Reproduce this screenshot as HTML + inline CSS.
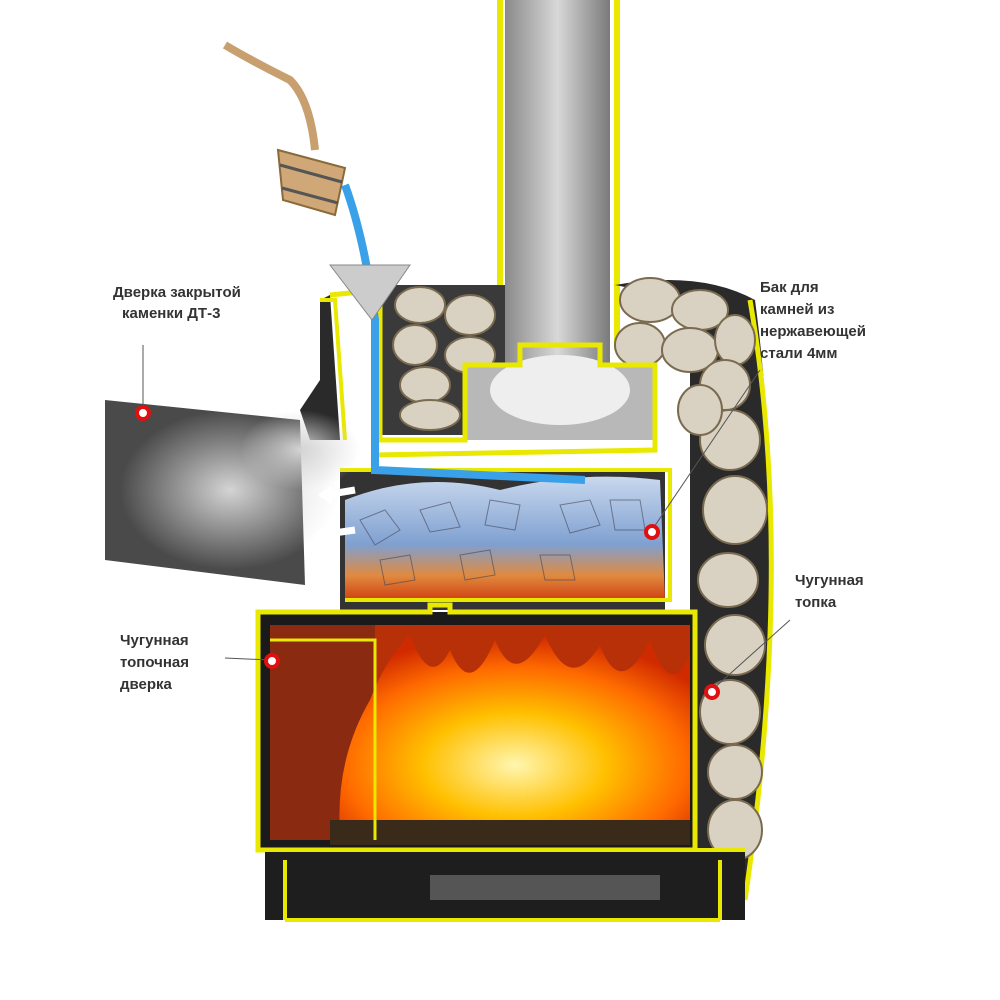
<!DOCTYPE html>
<html><head><meta charset="utf-8"><style>
html,body{margin:0;padding:0;background:#fff;width:1000px;height:1000px;overflow:hidden}
svg{display:block}
text{font-family:"Liberation Sans",sans-serif;font-size:15px;fill:#333;font-weight:bold}
</style></head><body>
<svg width="1000" height="1000" viewBox="0 0 1000 1000" xmlns="http://www.w3.org/2000/svg">
<defs>
<linearGradient id="pipe" x1="0" x2="1"><stop offset="0" stop-color="#8a8a8a"/><stop offset=".5" stop-color="#d8d8d8"/><stop offset="1" stop-color="#7a7a7a"/></linearGradient>
<radialGradient id="fire" cx=".5" cy=".65" r=".65"><stop offset="0" stop-color="#fff6b0"/><stop offset=".4" stop-color="#ffc000"/><stop offset=".75" stop-color="#ff6a00"/><stop offset="1" stop-color="#d02a00"/></radialGradient>
<linearGradient id="rocks" x1="0" y1="0" x2="0" y2="1"><stop offset="0" stop-color="#c8d8ee"/><stop offset=".55" stop-color="#7fa0d0"/><stop offset=".8" stop-color="#e08a40"/><stop offset="1" stop-color="#d04010"/></linearGradient>
<radialGradient id="steam"><stop offset="0" stop-color="#d4d4d4"/><stop offset="1" stop-color="#d4d4d4" stop-opacity="0"/></radialGradient>
</defs>
<!-- chimney -->
<rect x="505" y="0" width="105" height="365" fill="url(#pipe)"/>
<path d="M500 0 V350 M617 0 V350" stroke="#e8e800" stroke-width="6"/>
<!-- back right wall / stones column -->
<path d="M615 285 Q700 270 755 300 Q790 560 745 900 L690 900 L690 300 Z" fill="#2a2a2a"/>
<path d="M750 300 Q795 560 745 900" stroke="#e8e800" stroke-width="5" fill="none"/>
<g fill="#d9d2c2" stroke="#7a6a50" stroke-width="2">
<ellipse cx="650" cy="300" rx="30" ry="22"/><ellipse cx="700" cy="310" rx="28" ry="20"/><ellipse cx="640" cy="345" rx="25" ry="22"/>
<ellipse cx="690" cy="350" rx="28" ry="22"/><ellipse cx="735" cy="340" rx="20" ry="25"/><ellipse cx="725" cy="385" rx="25" ry="25"/>
<ellipse cx="730" cy="440" rx="30" ry="30"/><ellipse cx="700" cy="410" rx="22" ry="25"/><ellipse cx="735" cy="510" rx="32" ry="34"/>
<ellipse cx="728" cy="580" rx="30" ry="27"/><ellipse cx="735" cy="645" rx="30" ry="30"/><ellipse cx="730" cy="712" rx="30" ry="32"/>
<ellipse cx="735" cy="772" rx="27" ry="27"/><ellipse cx="735" cy="830" rx="27" ry="30"/>
</g>
<!-- upper stone chamber -->
<rect x="380" y="285" width="125" height="150" fill="#3a3a3a"/>
<g fill="#d9d2c2" stroke="#7a6a50" stroke-width="2">
<ellipse cx="420" cy="305" rx="25" ry="18"/><ellipse cx="470" cy="315" rx="25" ry="20"/><ellipse cx="415" cy="345" rx="22" ry="20"/>
<ellipse cx="470" cy="355" rx="25" ry="18"/><ellipse cx="425" cy="385" rx="25" ry="18"/><ellipse cx="430" cy="415" rx="30" ry="15"/>
</g>
<rect x="465" y="365" width="190" height="75" fill="#b8b8b8"/>
<ellipse cx="560" cy="390" rx="70" ry="35" fill="#eee"/>
<path d="M330 295 L380 290 L380 440 L465 440 L465 365 L520 365 L520 345 L600 345 L600 365 L655 365 L655 450 L375 455" stroke="#e8e800" stroke-width="5" fill="none"/>
<path d="M320 300 L330 295 L340 440 L310 440 L300 410 L320 380 Z" fill="#2a2a2a"/>
<path d="M320 300 L335 300 L345 440" stroke="#e8e800" stroke-width="4" fill="none"/>
<!-- rocks compartment -->
<rect x="340" y="470" width="325" height="140" fill="#333"/>
<path d="M345 500 Q420 470 500 490 Q580 470 660 480 L665 600 L345 600 Z" fill="url(#rocks)"/>
<g stroke="#445" stroke-width="1" fill="none" opacity=".6">
<path d="M360 520 l25 -10 l15 20 l-25 15z M420 510 l30 -8 l10 25 l-30 5z M490 500 l30 5 l-5 25 l-30 -5z M560 505 l30 -5 l10 25 l-30 8z M610 500 l30 0 l5 30 l-30 0z M380 560 l30 -5 l5 25 l-30 5z M460 555 l30 -5 l5 25 l-30 5z M540 555 l30 0 l5 25 l-30 0z"/>
</g>
<path d="M340 470 H670 V600 H345" stroke="#e8e800" stroke-width="4" fill="none"/>
<!-- door panel -->
<polygon points="105,400 300,420 305,585 105,560" fill="#4a4a4a"/>
<ellipse cx="230" cy="490" rx="110" ry="80" fill="url(#steam)"/>
<ellipse cx="300" cy="450" rx="60" ry="40" fill="url(#steam)"/>
<path d="M355 490 L325 495 M355 530 L320 535" stroke="#fff" stroke-width="7"/>
<polygon points="318,495 332,485 332,505" fill="#fff"/><polygon points="312,535 326,525 326,545" fill="#fff"/>
<!-- water -->
<path d="M345 185 Q365 240 375 320 L375 470 L585 480" stroke="#3aa0e8" stroke-width="8" fill="none"/>
<polygon points="330,265 410,265 372,320" fill="#ccc" stroke="#888"/>
<!-- ladle -->
<path d="M225 45 Q250 60 290 80 Q310 100 315 150" stroke="#c8a070" stroke-width="8" fill="none"/>
<polygon points="278,150 345,168 335,215 283,200" fill="#d0a878" stroke="#8a6a3a" stroke-width="2"/>
<path d="M280 165 L342 182 M282 188 L338 203" stroke="#555" stroke-width="3"/>
<!-- firebox -->
<rect x="258" y="612" width="435" height="240" fill="#1a1a1a"/>
<rect x="270" y="625" width="105" height="215" fill="#8a2a10"/>
<rect x="375" y="625" width="315" height="215" fill="#b83008"/>
<path d="M340 835 Q335 760 370 700 Q385 660 410 635 Q430 690 450 650 Q470 700 495 640 Q515 690 545 635 Q570 695 600 645 Q620 700 650 640 Q670 700 690 655 L690 835 Z" fill="url(#fire)"/>
<rect x="330" y="820" width="360" height="25" fill="#3a2a1a"/>
<path d="M258 612 H430 V605 H450 V612 H695 V850 H258 Z" stroke="#e8e800" stroke-width="5" fill="none"/>
<path d="M270 640 H375 V840" stroke="#e8e800" stroke-width="3" fill="none"/>
<!-- base -->
<rect x="265" y="850" width="480" height="70" fill="#1e1e1e"/>
<rect x="430" y="875" width="230" height="25" fill="#555"/>
<path d="M265 850 H745 M285 860 V920 M720 860 V920 M285 920 H720" stroke="#e8e800" stroke-width="4" fill="none"/>
<!-- labels -->
<text x="113" y="297">Дверка закрытой</text>
<text x="122" y="318">каменки ДТ-3</text>
<line x1="143" y1="345" x2="143" y2="410" stroke="#555"/>
<text x="760" y="292">Бак для</text>
<text x="760" y="314">камней  из</text>
<text x="760" y="336">нержавеющей</text>
<text x="760" y="358">стали 4мм</text>
<line x1="760" y1="370" x2="652" y2="530" stroke="#555"/>
<text x="795" y="585">Чугунная</text>
<text x="795" y="607">топка</text>
<line x1="790" y1="620" x2="712" y2="690" stroke="#555"/>
<text x="120" y="645">Чугунная</text>
<text x="120" y="667">топочная</text>
<text x="120" y="689">дверка</text>
<line x1="225" y1="658" x2="270" y2="660" stroke="#555"/>
<g fill="#fff" stroke="#e01010" stroke-width="4">
<circle cx="143" cy="413" r="6"/><circle cx="652" cy="532" r="6"/><circle cx="712" cy="692" r="6"/><circle cx="272" cy="661" r="6"/>
</g>
</svg>
</body></html>
